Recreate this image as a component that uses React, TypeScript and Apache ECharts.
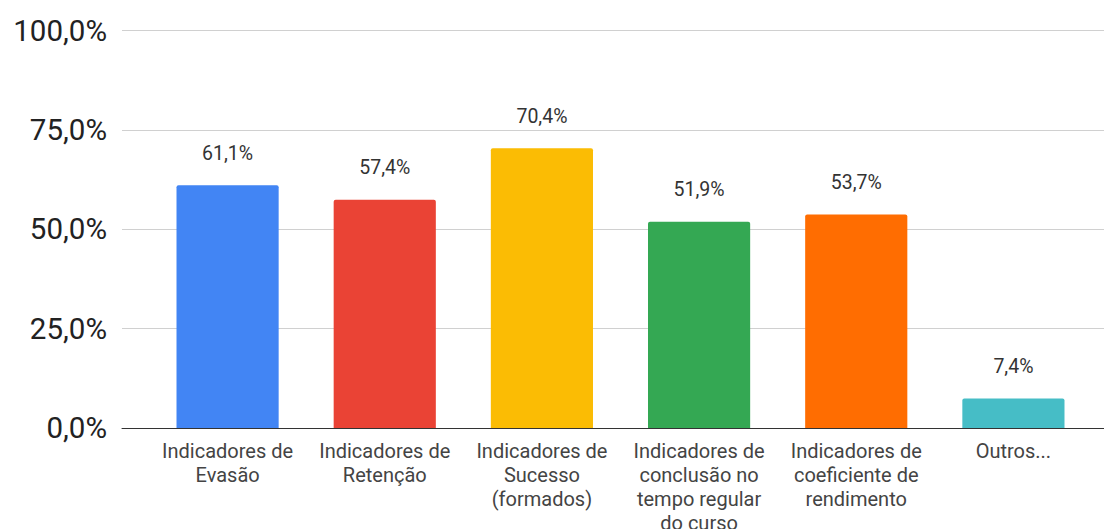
import React, { useEffect, useRef } from "react";
import * as echarts from "echarts";

const categories = [
  "Indicadores de\nEvasão",
  "Indicadores de\nRetenção",
  "Indicadores de\nSucesso\n(formados)",
  "Indicadores de\nconclusão no\ntempo regular\ndo curso",
  "Indicadores de\ncoeficiente de\nrendimento",
  "Outros...",
];
const values = [61.1, 57.4, 70.4, 51.9, 53.7, 7.4];
const colors = ["#4285F4", "#EA4335", "#FBBC04", "#34A853", "#FF6D01", "#46BDC6"];
const yTicks = [0, 25, 50, 75, 100];

const fmt = (v: number) => v.toFixed(1).replace(".", ",") + "%";

export default function App() {
  const ref = useRef<HTMLDivElement>(null);
  useEffect(() => {
    if (!ref.current) return;
    const chart = echarts.init(ref.current, null, { renderer: "svg" });
    const font = "Roboto, Arial, sans-serif";
    chart.setOption({
      animation: false,
      textStyle: { fontFamily: font },
      grid: [
        { left: 122, right: 0, top: 30.5, bottom: 101, outerBoundsMode: "none", containLabel: false },
        { left: 149, right: 12, top: 30.5, bottom: 101, outerBoundsMode: "none", containLabel: false },
      ],
      xAxis: [
        {
          gridIndex: 0,
          type: "category",
          data: categories,
          axisLine: { show: true, lineStyle: { color: "#333", width: 1 } },
          axisTick: { show: false },
          axisLabel: { show: false },
          z: 5,
        },
        {
          gridIndex: 1,
          type: "category",
          data: categories,
          axisLine: { show: false },
          axisTick: { show: false },
          axisLabel: {
            show: true,
            interval: 0,
            margin: 11,
            fontSize: 20,
            lineHeight: 24,
            color: "#444",
            fontFamily: font,
          },
        },
      ],
      yAxis: [
        {
          gridIndex: 0,
          type: "value",
          min: yTicks[0],
          max: yTicks[yTicks.length - 1],
          interval: 25,
          axisLine: { show: false },
          axisTick: { show: false },
          splitLine: { show: true, lineStyle: { color: "#d0d0d0", width: 1 } },
          axisLabel: {
            margin: 15,
            fontSize: 29.5,
            color: "#222",
            fontFamily: font,
            formatter: (v: number) => fmt(v),
          },
        },
        {
          gridIndex: 1,
          type: "value",
          min: yTicks[0],
          max: yTicks[yTicks.length - 1],
          interval: 25,
          show: false,
          splitLine: { show: false },
        },
      ],
      series: [
        {
          type: "bar",
          xAxisIndex: 1,
          yAxisIndex: 1,
          barWidth: "65%",
          data: values.map((v, i) => ({
            value: v,
            itemStyle: { color: colors[i], borderRadius: [2, 2, 0, 0] },
          })),
          label: {
            show: true,
            position: "top",
            distance: 22,
            fontSize: 19.5,
            color: "#333",
            fontFamily: font,
            formatter: (p: any) => fmt(p.value),
          },
        },
      ],
    });
    return () => chart.dispose();
  }, []);
  return <div ref={ref} style={{ width: 1104, height: 529, position: "absolute", left: 0, top: 0 }} />;
}
